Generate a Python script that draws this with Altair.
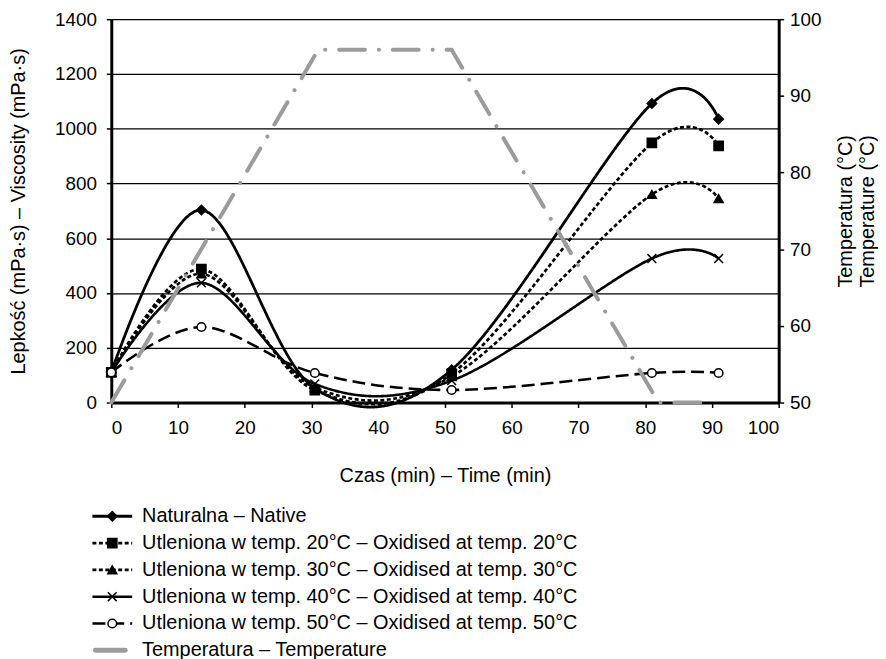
import altair as alt
import pandas as pd

# ---- data ----
time_min = [0, 13.5, 30.5, 51, 81, 91]
native = [110, 703, 52, 120, 1092, 1035]
ox20 = [110, 487, 45, 105, 948, 937]
ox30 = [110, 470, 55, 95, 760, 745]
ox40 = [110, 437, 68, 80, 526, 526]
ox50 = [110, 276, 108, 46, 108, 108]

temp_time = [0, 31, 51, 82, 90]
temp_c = [50, 96, 96, 50, 50]

names = [
    "Naturalna – Native",
    "Utleniona w temp. 20°C – Oxidised at temp. 20°C",
    "Utleniona w temp. 30°C – Oxidised at temp. 30°C",
    "Utleniona w temp. 40°C – Oxidised at temp. 40°C",
    "Utleniona w temp. 50°C – Oxidised at temp. 50°C",
]
temp_name = "Temperatura – Temperature"
all_names = names + [temp_name]

x_ticks = list(range(0, 101, 10))
y_ticks = list(range(0, 1401, 200))
y2_ticks = list(range(50, 101, 10))

# ---- styles ----
FONT = "Liberation Sans"
GRAY = "#9b9b9b"
colors = ["black"] * 5 + [GRAY]
dashes = [[1, 0], [4, 2.5], [4, 2.5], [1, 0], [13, 6], [26, 14, 0.1, 14]]
widths = [2.8, 2.5, 2.5, 1.0, 2.5, 4]
shapes = ["diamond", "square", "triangle-up", "M-1,-1L1,1M-1,1L1,-1", "circle"]
fills = ["black", "black", "black", "black", "white"]
sizes = [90, 75, 80, 55, 50]
temp_dash = [26, 14, 0.1, 14]

rows = []
for name, vals in zip(names, [native, ox20, ox30, ox40, ox50]):
    for t, v in zip(time_min, vals):
        rows.append({"series": name, "time": t, "visc": v})
visc_df = pd.DataFrame(rows)
temp_df = pd.DataFrame({"series": temp_name, "time": temp_time, "temp": temp_c})

color_scale = alt.Scale(domain=all_names, range=colors)
dash_scale = alt.Scale(domain=all_names, range=dashes)
width_scale = alt.Scale(domain=all_names, range=widths)
shape_scale = alt.Scale(domain=names, range=shapes)
fill_scale = alt.Scale(domain=names, range=fills)
size_scale = alt.Scale(domain=names, range=sizes)

x_enc = alt.X(
    "time:Q",
    scale=alt.Scale(domain=[0, 100], nice=False),
    axis=alt.Axis(values=x_ticks, title="Czas (min) – Time (min)", grid=False,
                  labelPadding=11, titlePadding=28, tickSize=5, format="d"),
)
y_enc = alt.Y(
    "visc:Q",
    scale=alt.Scale(domain=[0, 1400], nice=False),
    axis=alt.Axis(values=y_ticks, title="Lepkość (mPa·s) – Viscosity (mPa·s)",
                  grid=True, gridColor="black", gridWidth=1.3, format="d",
                  labelPadding=10, tickSize=5, titlePadding=26),
)

lines = alt.Chart(visc_df).mark_line(interpolate="cardinal").encode(
    x=x_enc,
    y=y_enc,
    color=alt.Color("series:N", scale=color_scale, legend=None),
    strokeDash=alt.StrokeDash("series:N", scale=dash_scale, legend=None),
    strokeWidth=alt.StrokeWidth("series:N", scale=width_scale, legend=None),
)
points = alt.Chart(visc_df).mark_point(stroke="black", strokeWidth=1.5, opacity=1).encode(
    x=alt.X("time:Q"),
    y=alt.Y("visc:Q"),
    shape=alt.Shape("series:N", scale=shape_scale, legend=None),
    fill=alt.Fill("series:N", scale=fill_scale, legend=None),
    size=alt.Size("series:N", scale=size_scale, legend=None),
)
left = alt.layer(lines, points)

temp_line = alt.Chart(temp_df).mark_line(
    color=GRAY, strokeWidth=4, strokeDash=temp_dash, strokeCap="round"
).encode(
    x=alt.X("time:Q", scale=alt.Scale(domain=[0, 100], nice=False)),
    y=alt.Y(
        "temp:Q",
        scale=alt.Scale(domain=[50, 100], nice=False),
        axis=alt.Axis(orient="right", values=y2_ticks, format="d",
                      title=["Temperatura (°C)", "Temperature (°C)"],
                      titleAngle=270, grid=False, labelPadding=6,
                      tickSize=5, titlePadding=13),
    ),
)

main = alt.layer(left, temp_line).resolve_scale(y="independent").properties(
    width=672, height=386
)

# ---- legend panel (positions relative to the plot's left edge) ----
leg_df = pd.DataFrame({"series": all_names})
leg_y = alt.Y("series:N", scale=alt.Scale(domain=all_names), axis=None)
leg_rule = alt.Chart(leg_df).transform_filter(
    alt.datum.series != temp_name
).mark_rule().encode(
    x=alt.value(-19), x2=alt.value(21), y=leg_y,
    color=alt.Color("series:N", scale=color_scale, legend=None),
    strokeDash=alt.StrokeDash("series:N", scale=dash_scale, legend=None),
    strokeWidth=alt.StrokeWidth("series:N", scale=width_scale, legend=None),
)
leg_temp = alt.Chart(leg_df).transform_filter(
    alt.datum.series == temp_name
).mark_rule(color=GRAY, strokeWidth=5, strokeCap="round").encode(
    x=alt.value(-16), x2=alt.value(14), y=leg_y,
)
leg_pts = alt.Chart(leg_df).transform_filter(
    alt.datum.series != temp_name
).mark_point(stroke="black", strokeWidth=1.5, opacity=1).encode(
    x=alt.value(1), y=leg_y,
    shape=alt.Shape("series:N", scale=shape_scale, legend=None),
    fill=alt.Fill("series:N", scale=fill_scale, legend=None),
    size=alt.Size("series:N", scale=size_scale, legend=None),
)
leg_text = alt.Chart(leg_df).mark_text(
    align="left", baseline="middle", font=FONT, fontSize=20, color="black"
).encode(x=alt.value(31), y=leg_y, text="series:N")

legend = alt.layer(leg_rule, leg_temp, leg_pts, leg_text).properties(
    width=480, height=162
)

chart = alt.vconcat(main, legend, spacing=18).properties(padding=0).configure_axis(
    labelFont=FONT, labelFontSize=19, titleFont=FONT, titleFontSize=20,
    titleFontWeight="normal", labelColor="black", titleColor="black",
    domainColor="black", tickColor="black", domainWidth=3, tickWidth=1.5,
).configure_view(stroke=None)

chart.save("out.html", embed_options={"renderer": "svg", "actions": False})
